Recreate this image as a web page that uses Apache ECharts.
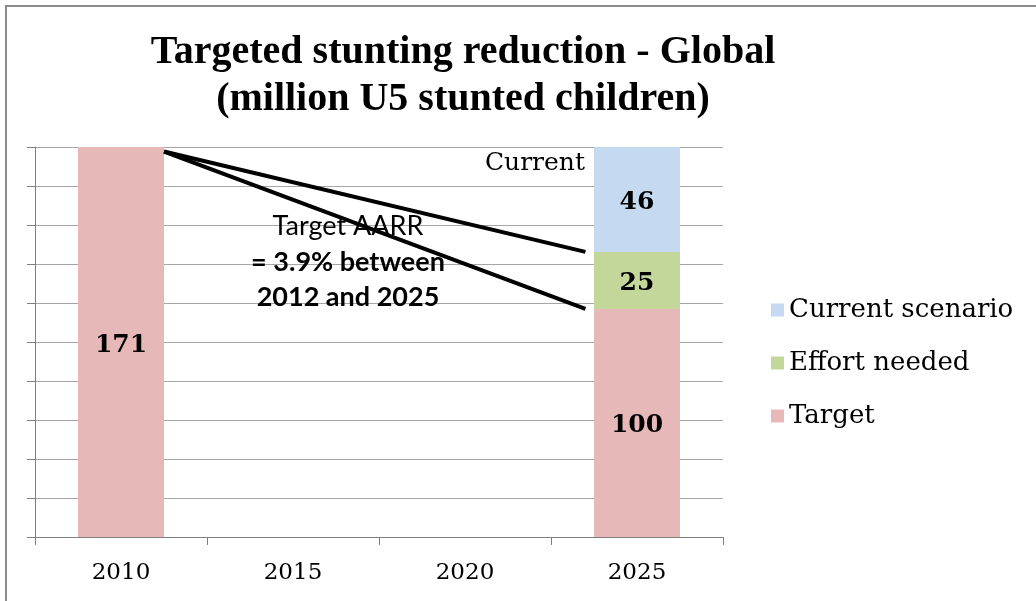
<!DOCTYPE html>
<html>
<head>
<meta charset="utf-8">
<script src="https://cdn.jsdelivr.net/npm/echarts@6/dist/echarts.min.js"></script>
<style>
html,body{margin:0;padding:0;background:#fff;}
#c{width:1036px;height:601px;}
</style>
</head>
<body>
<div id="c"></div>
<script>
const categories = ['2010', '2015', '2020', '2025'];
const targetValues = [171, '-', '-', 100];
const effortValues = ['-', '-', '-', 25];
const currentValues = ['-', '-', '-', 46];
const currentTrend = [[0.25, 169], [2.70, 125]];
const targetTrend = [[0.25, 169], [2.70, 100]];
const titleText = 'Targeted stunting reduction - Global\n(million U5 stunted children)';

const titleSerif = '"Liberation Serif", serif';
const serif = '"DejaVu Serif", serif';
const sans = 'Lato, "Open Sans", sans-serif';

const chart = echarts.init(document.getElementById('c'));
const labelStyle = {show: true, position: 'inside', offset: [0, 3], color: '#000', fontFamily: serif, fontWeight: 'bold', fontSize: 25};

chart.setOption({
  animation: false,
  title: {
    text: titleText,
    left: 458, top: 24, textAlign: 'center',
    textStyle: {fontFamily: titleSerif, fontWeight: 'bold', fontSize: 40, lineHeight: 47, color: '#000'}
  },
  legend: {
    orient: 'vertical', left: 766, top: 292,
    data: ['Current scenario', 'Effort needed', 'Target'],
    itemWidth: 13, itemHeight: 13, itemGap: 27,
    icon: 'rect',
    textStyle: {fontFamily: serif, fontSize: 26, color: '#000'}
  },
  grid: {left: 35, right: 313, top: 147, bottom: 64},
  xAxis: [{
    type: 'category', data: categories,
    axisLine: {onZero: false, lineStyle: {color: '#7f7f7f', width: 1}},
    axisTick: {show: true, length: 8, lineStyle: {color: '#7f7f7f'}},
    axisLabel: {fontFamily: serif, fontSize: 23, color: '#000', margin: 25}
  }, {
    type: 'value', min: -0.5, max: 3.5, show: false
  }],
  yAxis: {
    type: 'value', min: 0, max: 171, interval: 17.1,
    axisLine: {show: true, onZero: false, lineStyle: {color: '#7f7f7f', width: 1}},
    axisTick: {show: true, inside: false, length: 8, lineStyle: {color: '#7f7f7f'}},
    axisLabel: {show: false},
    splitLine: {show: true, lineStyle: {color: '#a6a6a6', width: 1}}
  },
  series: [
    {name: 'Target', type: 'bar', stack: 's', data: targetValues, barWidth: '50%',
     itemStyle: {color: '#e6b8b7'}, label: labelStyle},
    {name: 'Effort needed', type: 'bar', stack: 's', data: effortValues,
     itemStyle: {color: '#c4d79b'}, label: labelStyle},
    {name: 'Current scenario', type: 'bar', stack: 's', data: currentValues,
     itemStyle: {color: '#c5d9f1'}, label: labelStyle},
    {name: 'trend1', type: 'line', xAxisIndex: 1, data: currentTrend, symbol: 'none', z: 10,
     lineStyle: {color: '#000', width: 4}},
    {name: 'trend2', type: 'line', xAxisIndex: 1, data: targetTrend, symbol: 'none', z: 10,
     lineStyle: {color: '#000', width: 4}}
  ],
  graphic: [
    {type: 'rect', shape: {x: 6, y: 6, width: 1100, height: 700}, style: {fill: 'none', stroke: '#8c8c8c', lineWidth: 2}, silent: true, z: 0},
    {type: 'text', x: 585, y: 163, z: 5, style: {text: 'Current', fontFamily: serif, fontSize: 25, fill: '#000', textAlign: 'right', textVerticalAlign: 'middle'}},
    {type: 'text', x: 348, y: 226, z: 1, style: {text: 'Target AARR', fontFamily: sans, fontSize: 27, fill: '#000', textAlign: 'center', textVerticalAlign: 'middle'}},
    {type: 'text', x: 348, y: 262, z: 1, style: {text: '= 3.9% between', fontFamily: sans, fontWeight: 'bold', fontSize: 27, fill: '#000', textAlign: 'center', textVerticalAlign: 'middle'}},
    {type: 'text', x: 348, y: 297, z: 1, style: {text: '2012 and 2025', fontFamily: sans, fontWeight: 'bold', fontSize: 27, fill: '#000', textAlign: 'center', textVerticalAlign: 'middle'}}
  ]
});
</script>
</body>
</html>
